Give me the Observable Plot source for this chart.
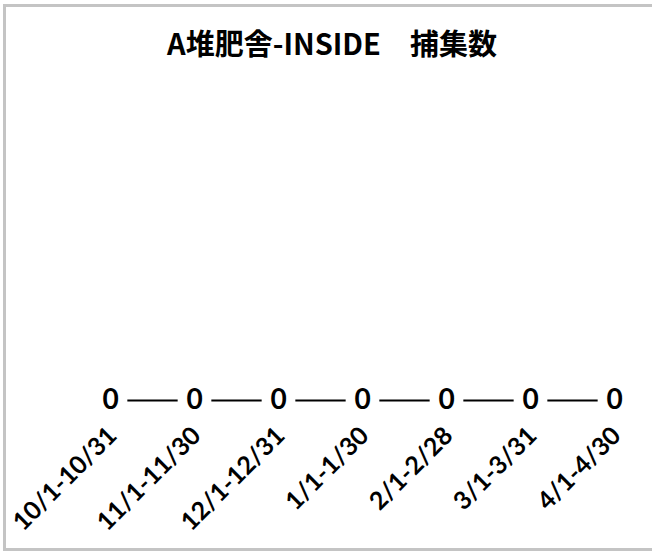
<!DOCTYPE html>
<html>
<head>
<meta charset="utf-8">
<script src="https://cdn.jsdelivr.net/npm/d3@7"></script>
<script src="https://cdn.jsdelivr.net/npm/@observablehq/plot@0.6"></script>
<style>
  html, body { margin: 0; padding: 0; background: #fff; overflow: hidden; }
  #box {
    position: absolute; left: 3px; top: 4px; width: 700px; height: 547px;
    border: 3px solid #c4c4c4; box-sizing: border-box; background: #fff;
  }
  #title {
    position: absolute; left: 0; top: 17px; width: 652px; text-align: center;
    font-family: "Noto Sans CJK JP", sans-serif; font-weight: bold; font-size: 29px;
    line-height: 36px; color: #000; white-space: pre;
  }
  #chart { position: absolute; left: 0; top: 60px; width: 646px; }
  #chart svg { max-width: none !important; }
</style>
</head>
<body>
<div id="box">
  <div id="title"></div>
  <div id="chart"></div>
</div>
<script>
const titleText = "A堆肥舎-INSIDE　捕集数";
const periods = ["10/1-10/31", "11/1-11/30", "12/1-12/31", "1/1-1/30", "2/1-2/28", "3/1-3/31", "4/1-4/30"];
const counts = [0, 0, 0, 0, 0, 0, 0];

document.getElementById("title").textContent = titleText;

const data = periods.map((p, i) => ({period: p, count: counts[i]}));
const font = "Lato";

const chart = Plot.plot({
  width: 646,
  height: 484,
  marginLeft: 104,
  marginRight: 38,
  marginTop: 20,
  marginBottom: 151,
  style: {background: "transparent", overflow: "visible", fontFamily: font},
  x: {type: "point", domain: periods, padding: 0, axis: null},
  y: {domain: [0, 1], axis: null},
  marks: [
    Plot.line(data, {x: "period", y: "count", stroke: "#000", strokeWidth: 2}),
    Plot.dot(data, {x: "period", y: "count", symbol: "square", r: 19, fill: "#fff", stroke: "none"}),
    Plot.text(data, {
      x: "period", y: "count", text: d => String(d.count),
      fontSize: 28, fontWeight: "bold", fontFamily: font, fontVariant: "normal", fill: "#000"
    }),
    Plot.text(data, {
      x: "period", y: "count", text: "period",
      rotate: -45, textAnchor: "end", lineAnchor: "middle",
      dx: 2, dy: 31,
      fontSize: 25, fontWeight: "bold", fontFamily: font, fontVariant: "normal", fill: "#000"
    })
  ]
});
document.getElementById("chart").appendChild(chart);
</script>
</body>
</html>
